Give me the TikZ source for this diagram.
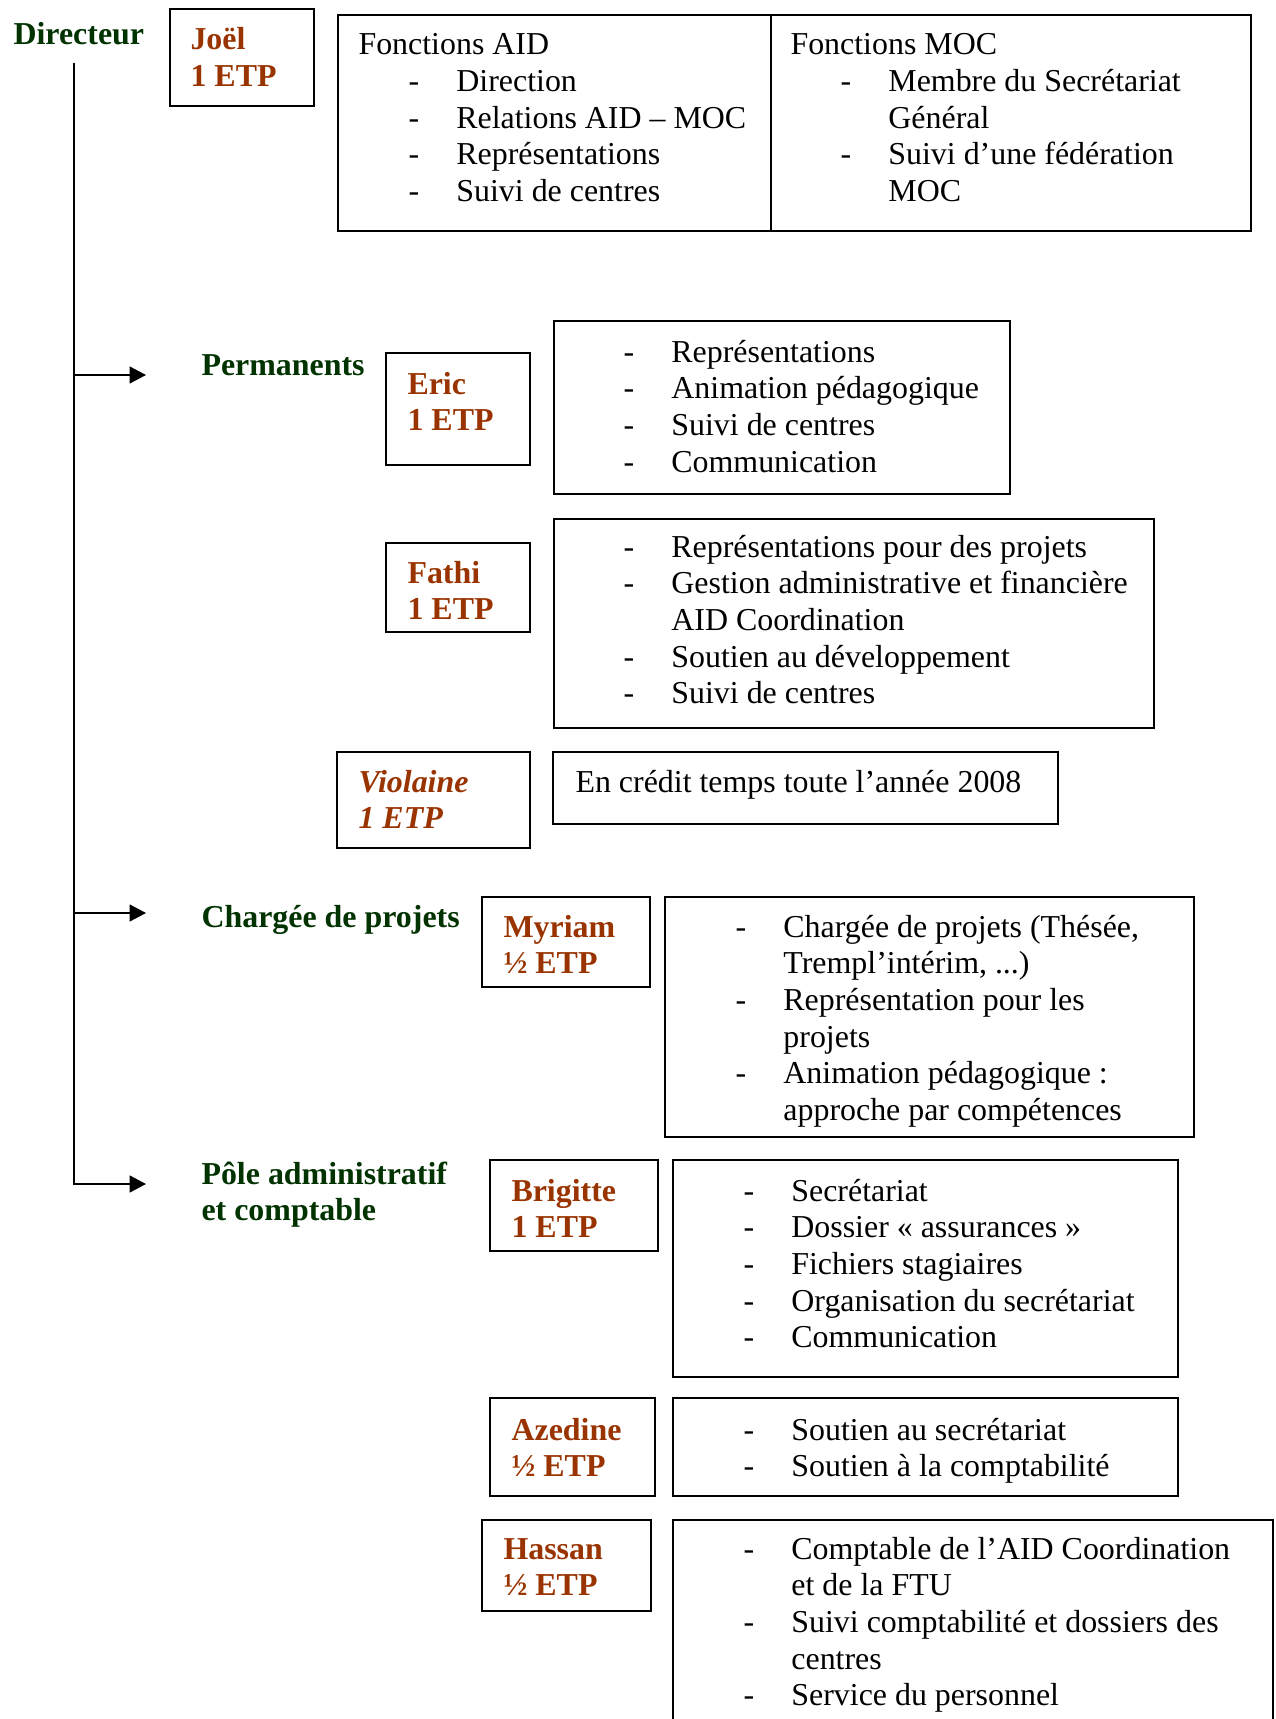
\documentclass[tikz,border=0pt]{standalone}
\usepackage{fontspec}
\setmainfont{Liberation Serif}
\usetikzlibrary{arrows.meta}
\definecolor{dgreen}{HTML}{003300}
\definecolor{brn}{HTML}{993300}
\newcommand\dsh{\makebox[18pt][l]{-}}
\newcommand\ind{\hspace*{18pt}}
\newcommand\lines[1]{\parbox[t]{420pt}{\raggedright #1}}
\newcommand\bx[5]{\node[box, minimum width={(#4-#2)*0.376pt}, minimum height={(#5-#3)*0.376pt}] (#1) at (#2,#3) {};}
\begin{document}
\begin{tikzpicture}[x=0.376pt,y=-0.376pt,
  box/.style={draw, line width=0.7pt, rectangle, inner sep=0pt, outer sep=0pt, anchor=north west},
  txt/.style={inner sep=0pt, anchor=base west, font=\fontsize{12}{13.8}\selectfont},
  pname/.style={txt, font=\fontsize{12}{13.8}\selectfont\bfseries, text=brn},
  grp/.style={txt, font=\fontsize{12}{13.8}\selectfont\bfseries, text=dgreen},
  conn/.style={line width=0.6pt},
  arr/.style={conn, -{Triangle[length=6.2pt,width=6.4pt]}}
]
\useasboundingbox (0,0) rectangle (1276,1719);

% group labels
\node[grp] (dir) at (13,45) {Directeur};
\node[grp] (perm) at (201,375) {Permanents};
\node[grp] (charg) at (201,927) {Chargée de projets};
\node[grp] (pole) at (201,1184) {\lines{Pôle administratif\\et comptable}};

% connectors
\coordinate (vtop) at (74,63);
\coordinate (j1) at (74,375);
\coordinate (a1) at (146,375);
\coordinate (j2) at (74,913);
\coordinate (a2) at (146,913);
\coordinate (j3) at (74,1184);
\coordinate (a3) at (146,1184);
\draw[arr] (vtop) -- (j3) -- (a3);
\draw[arr] (j1) -- (a1);
\draw[arr] (j2) -- (a2);

% Joel
\bx{joelB}{170}{9}{314}{106}
\node[pname] (joel) at (190,50) {\lines{Joël\\1 ETP}};
\bx{topB}{338}{15}{1251}{231}
\coordinate (divT) at (771,15);
\coordinate (divB) at (771,231);
\draw[line width=0.7pt] (divT) -- (divB);
\node[txt] (aidh) at (358,55) {Fonctions AID};
\node[txt] (aidl) at (408,91.5) {\lines{\dsh Direction\\\dsh Relations AID – MOC\\\dsh Représentations\\\dsh Suivi de centres}};
\node[txt] (moch) at (790,55) {Fonctions MOC};
\node[txt] (mocl) at (840,91.5) {\lines{\dsh Membre du Secrétariat\\\ind Général\\\dsh Suivi d’une fédération\\\ind MOC}};

% Eric
\bx{ericB}{386}{353}{530}{465}
\node[pname] (eric) at (407,394) {\lines{Eric\\1 ETP}};
\bx{ericT}{554}{321}{1010}{494}
\node[txt] (ericl) at (623,362) {\lines{\dsh Représentations\\\dsh Animation pédagogique\\\dsh Suivi de centres\\\dsh Communication}};

% Fathi
\bx{fathiB}{386}{543}{530}{632}
\node[pname] (fathi) at (407,583) {\lines{Fathi\\1 ETP}};
\bx{fathiT}{554}{519}{1154}{728}
\node[txt] (fathil) at (623,557) {\lines{\dsh Représentations pour des projets\\\dsh Gestion administrative et financière\\\ind AID Coordination\\\dsh Soutien au développement\\\dsh Suivi de centres}};

% Violaine
\bx{violB}{337}{752}{530}{848}
\node[pname, font=\fontsize{12}{13.8}\selectfont\bfseries\itshape] (viol) at (358,792) {\lines{Violaine\\1 ETP}};
\bx{violT}{553}{752}{1058}{824}
\node[txt] (violl) at (575,792) {En crédit temps toute l’année 2008};

% Myriam
\bx{myrB}{482}{897}{650}{987}
\node[pname] (myr) at (503,937) {\lines{Myriam\\½ ETP}};
\bx{myrT}{665}{897}{1194}{1137}
\node[txt] (myrl) at (735,937) {\lines{\dsh Chargée de projets (Thésée,\\\ind Trempl’intérim, ...)\\\dsh Représentation pour les\\\ind projets\\\dsh Animation pédagogique :\\\ind approche par compétences}};

% Brigitte
\bx{brigB}{490}{1160}{658}{1251}
\node[pname] (brig) at (511,1201) {\lines{Brigitte\\1 ETP}};
\bx{brigT}{673}{1160}{1178}{1377}
\node[txt] (brigl) at (743,1201) {\lines{\dsh Secrétariat\\\dsh Dossier « assurances »\\\dsh Fichiers stagiaires\\\dsh Organisation du secrétariat\\\dsh Communication}};

% Azedine
\bx{azB}{490}{1398}{655}{1496}
\node[pname] (az) at (511,1440) {\lines{Azedine\\½ ETP}};
\bx{azT}{673}{1398}{1178}{1496}
\node[txt] (azl) at (743,1440) {\lines{\dsh Soutien au secrétariat\\\dsh Soutien à la comptabilité}};

% Hassan
\bx{hasB}{482}{1520}{651}{1611}
\node[pname] (has) at (503,1559) {\lines{Hassan\\½ ETP}};
\bx{hasT}{673}{1520}{1273}{1740}
\node[txt] (hasl) at (743,1559) {\lines{\dsh Comptable de l’AID Coordination\\\ind et de la FTU\\\dsh Suivi comptabilité et dossiers des\\\ind centres\\\dsh Service du personnel}};
\end{tikzpicture}
\end{document}
